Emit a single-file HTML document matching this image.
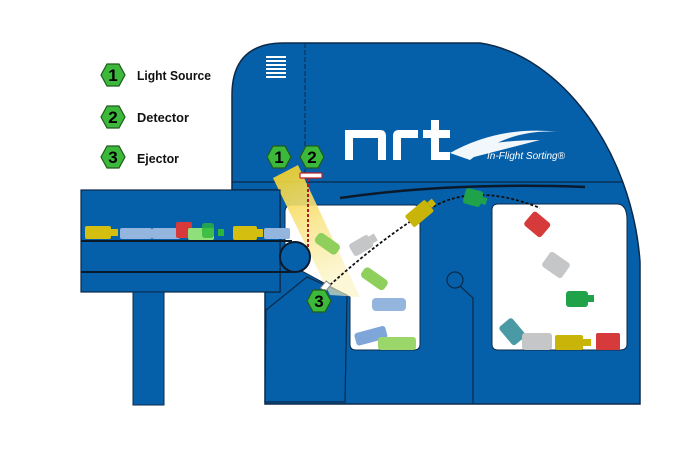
<!DOCTYPE html>
<html><head><meta charset="utf-8"><style>
html,body{margin:0;padding:0;background:#fff;}
svg{display:block;}
</style></head><body>
<svg width="700" height="465" viewBox="0 0 700 465" xmlns="http://www.w3.org/2000/svg">
<defs>
<linearGradient id="beam" x1="0" y1="0" x2="0.3" y2="1">
<stop offset="0" stop-color="#f5d21a"/><stop offset="0.45" stop-color="#f8e27a"/><stop offset="1" stop-color="#fbf3c0" stop-opacity="0.7"/>
</linearGradient>
<g id="hex"><polygon points="-12,0 -6,-11 6,-11 12,0 6,11 -6,11" fill="#3cb83a" stroke="#1f5b1d" stroke-width="1.2"/></g>
</defs>
<!-- main body -->
<path d="M232,182 L232,95 Q232,43 284,43 L480,43 C560,55 632,150 640,262 L640,404 L265,404 L265,292 L280,292 L280,190 L232,190 Z" fill="#0660a9" stroke="#0b2a4a" stroke-width="1.5"/>
<line x1="232" y1="182" x2="622" y2="182" stroke="#0b2a4a" stroke-width="1.2"/>
<line x1="305" y1="43" x2="305" y2="175" stroke="#0b2a4a" stroke-width="1" stroke-dasharray="5,2"/>
<!-- vent -->
<g fill="#fff"><rect x="266" y="56" width="20" height="2"/><rect x="266" y="60" width="20" height="2"/><rect x="266" y="64" width="20" height="2"/><rect x="266" y="68" width="20" height="2"/><rect x="266" y="72" width="20" height="2"/><rect x="266" y="76" width="20" height="2"/></g>
<!-- windows -->
<path d="M292,205 L414,205 Q420,205 420,211 L420,344 Q420,350 414,350 L356,350 Q350,350 350,344 L350,297 L285,262 L285,212 Q285,205 292,205 Z" fill="#fff" stroke="#0b2a4a" stroke-width="1"/>
<path d="M498,204 L617,204 Q627,204 627,220 L627,344 Q627,350 620,350 L498,350 Q492,350 492,344 L492,210 Q492,204 498,204 Z" fill="#fff" stroke="#0b2a4a" stroke-width="1"/>
<!-- arc rail -->
<path d="M340,198 Q450,182 585,187" fill="none" stroke="#0b1a2a" stroke-width="2.5"/>
<!-- small circle -->
<circle cx="455" cy="280" r="8" fill="#0660a9" stroke="#0b2a4a" stroke-width="1.2"/>
<polyline points="460,286 473,298 473,404" fill="none" stroke="#0b2a4a" stroke-width="1.2"/>
<!-- ejector panel -->
<polygon points="266,310 307,277 347,295 345,402 265,402" fill="#0660a9" stroke="#0b2a4a" stroke-width="1.2"/>
<!-- beam -->
<polygon points="273,178 298,165 360,297 330,295" fill="url(#beam)" opacity="0.9"/>
<rect x="300" y="173" width="22" height="5" rx="1" fill="#fff" stroke="#c0202a" stroke-width="1.2"/>
<line x1="308" y1="179" x2="308" y2="256" stroke="#b0182a" stroke-width="2" stroke-dasharray="3,2"/>
<!-- conveyor -->
<rect x="81" y="190" width="199" height="102" fill="#0660a9" stroke="#0b2a4a" stroke-width="1.2"/>
<line x1="81" y1="241" x2="292" y2="241" stroke="#0b1a2a" stroke-width="2"/>
<line x1="81" y1="272" x2="292" y2="272" stroke="#0b1a2a" stroke-width="2"/>
<circle cx="295" cy="257" r="15" fill="#0660a9" stroke="#0b1a2a" stroke-width="2"/>
<rect x="133" y="292" width="31" height="113" fill="#0660a9" stroke="#0b2a4a" stroke-width="1"/>
<!-- conveyor bottles -->
<rect x="85" y="226" width="26" height="13" rx="2" fill="#d4bf10"/><rect x="111" y="229" width="7" height="7" fill="#d4bf10"/>
<rect x="120" y="228" width="32" height="11" rx="2" fill="#93b5de"/>
<rect x="152" y="228" width="28" height="11" rx="2" fill="#93b5de"/>
<rect x="176" y="222" width="16" height="16" rx="2" fill="#d63a3a"/>
<rect x="188" y="228" width="26" height="12" rx="2" fill="#8fe07a"/><rect x="202" y="223" width="12" height="15" rx="3" fill="#2bb63a" opacity="0.8"/>
<rect x="218" y="229" width="6" height="7" fill="#2bb63a"/>
<rect x="233" y="226" width="24" height="14" rx="2" fill="#d4bf10"/><rect x="257" y="229" width="6" height="8" fill="#d4bf10"/>
<rect x="264" y="228" width="26" height="11" rx="2" fill="#93b5de"/>
<!-- trajectory -->
<path d="M330,285 Q380,240 425,212 Q470,180 540,208" fill="none" stroke="#111" stroke-width="1.8" stroke-dasharray="3,2"/>
<rect x="323" y="282" width="6" height="9" fill="#fff" stroke="#888" transform="rotate(40 326 286)"/>
<!-- flying bottles -->
<g transform="rotate(-40 422 212)"><rect x="406" y="204" width="26" height="15" rx="2" fill="#c9b40a"/><rect x="432" y="208" width="6" height="7" fill="#c9b40a"/></g>
<g transform="rotate(15 475 198)"><rect x="464" y="190" width="18" height="16" rx="3" fill="#20a24a"/><rect x="482" y="195" width="5" height="7" fill="#20a24a"/></g>
<g transform="rotate(-30 362 245)"><rect x="350" y="238" width="22" height="14" rx="3" fill="#c4c6c8"/><rect x="372" y="241" width="6" height="8" fill="#c4c6c8"/></g>
<g transform="rotate(35 326 244)"><rect x="314" y="237" width="26" height="12" rx="4" fill="#8fcf5c"/></g>
<g transform="rotate(35 373 279)"><rect x="360" y="272" width="28" height="12" rx="4" fill="#8fcf5c"/></g>
<rect x="372" y="298" width="34" height="13" rx="4" fill="#93b5de"/>
<g transform="rotate(-15 372 336)"><rect x="355" y="329" width="32" height="13" rx="3" fill="#7fa6d8"/></g>
<rect x="378" y="337" width="38" height="13" rx="3" fill="#9bd66a"/>
<g transform="rotate(40 538 225)"><rect x="526" y="216" width="22" height="18" rx="3" fill="#d63a3a"/></g>
<g transform="rotate(35 556 265)"><rect x="544" y="256" width="24" height="18" rx="3" fill="#c4c6c8"/></g>
<rect x="566" y="291" width="22" height="16" rx="3" fill="#20a24a"/><rect x="588" y="295" width="6" height="7" fill="#20a24a"/>
<g transform="rotate(50 512 332)"><rect x="500" y="323" width="24" height="17" rx="3" fill="#4a9aa5"/></g>
<rect x="522" y="333" width="30" height="17" rx="3" fill="#c4c6c8"/>
<rect x="555" y="335" width="28" height="15" rx="2" fill="#c9b40a"/><rect x="583" y="339" width="8" height="7" fill="#c9b40a"/>
<rect x="596" y="333" width="24" height="17" rx="2" fill="#d63a3a"/>
<!-- logo -->
<g fill="#fff">
<path d="M345,160 L345,130 L380,130 Q386,130 386,136 L386,160 L378,160 L378,138 L353,138 L353,160 Z"/>
<path d="M393,160 L393,136 Q393,130 399,130 L418,130 L418,138 L401,138 L401,160 Z"/>
<path d="M423,130 L431,130 L431,120 L439,120 L439,130 L450,130 L450,138 L439,138 L439,152 L450,152 L450,160 L431,160 L431,138 L423,138 Z"/>
<path d="M450,153 Q500,125 560,132 Q510,128 470,160 Z M455,150 Q500,140 540,140 L470,158 Z" opacity="0.95"/>
</g>
<text x="487" y="159" font-family="Liberation Sans, sans-serif" font-style="italic" font-size="10" fill="#fff">In-Flight Sorting®</text>
<!-- hexagon labels -->
<g font-family="Liberation Sans, sans-serif" font-weight="bold" font-size="17" text-anchor="middle" fill="#000">
<use href="#hex" x="113" y="75"/><text x="113" y="81">1</text>
<use href="#hex" x="113" y="117"/><text x="113" y="123">2</text>
<use href="#hex" x="113" y="157"/><text x="113" y="163">3</text>
<use href="#hex" x="279" y="157"/><text x="279" y="163">1</text>
<use href="#hex" x="312" y="157"/><text x="312" y="163">2</text>
<use href="#hex" x="319" y="301"/><text x="319" y="307">3</text>
</g>
<g font-family="Liberation Sans, sans-serif" font-weight="bold" font-size="13" fill="#111">
<text x="137" y="80" textLength="74" lengthAdjust="spacingAndGlyphs">Light Source</text>
<text x="137" y="122" textLength="52" lengthAdjust="spacingAndGlyphs">Detector</text>
<text x="137" y="163" textLength="42" lengthAdjust="spacingAndGlyphs">Ejector</text>
</g>
</svg>
</body></html>
